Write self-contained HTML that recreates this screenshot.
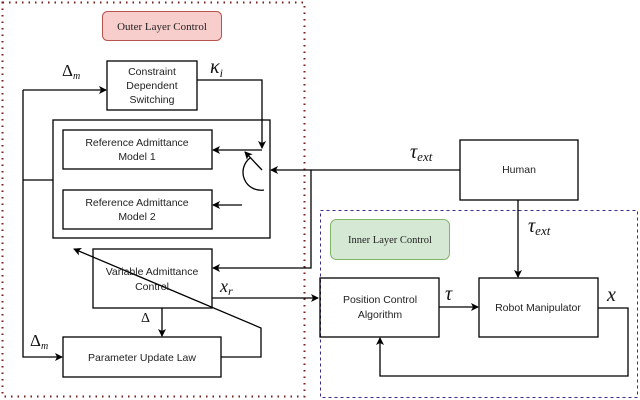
<!DOCTYPE html>
<html><head><style>
body{margin:0;background:#fff;}
svg{display:block;}
text{font-family:"Liberation Sans",sans-serif;font-size:10.5px;fill:#222;}
.m{font-family:"Liberation Serif",serif;font-style:italic;font-size:17px;fill:#111;}
</style></head><body>
<svg width="640" height="400" viewBox="0 0 640 400">
<defs><marker id="a" markerWidth="8" markerHeight="8" refX="7" refY="4" orient="auto" markerUnits="userSpaceOnUse"><path d="M0,0 L8,4 L0,8 L2,4z" fill="#000"/></marker></defs>
<rect x="2.5" y="2.5" width="302" height="394" fill="none" stroke="#7a1f1f" stroke-width="2" stroke-dasharray="1.5,5"/>
<rect x="320.5" y="210.5" width="317" height="187" fill="none" stroke="#3a2a8a" stroke-width="1" stroke-dasharray="3,3"/>
<rect x="102.5" y="11.5" width="119" height="29" rx="5" fill="#f8cecc" stroke="#b85450"/>
<text x="162" y="30" text-anchor="middle" style="font-family:'Liberation Serif',serif;font-size:11px">Outer Layer Control</text>
<rect x="330.5" y="219.5" width="119" height="40" rx="6" fill="#d5e8d4" stroke="#82b366"/>
<text x="390" y="243" text-anchor="middle" style="font-family:'Liberation Serif',serif;font-size:10.5px">Inner Layer Control</text>
<g fill="none" stroke="#000" stroke-width="1.3">
<rect x="107" y="61" width="90" height="49"/>
<rect x="53" y="120" width="217" height="118"/>
<rect x="63" y="130" width="149" height="39"/>
<rect x="63" y="190" width="149" height="39"/>
<rect x="93" y="249" width="119" height="59"/>
<rect x="63" y="337" width="158" height="40"/>
<rect x="460" y="140" width="118" height="60"/>
<rect x="320" y="278" width="119" height="59"/>
<rect x="479" y="278" width="119" height="59"/>
<path d="M23,180 H53"/>
<path d="M23,90 H106" marker-end="url(#a)"/>
<path d="M23,90 V357 H62" marker-end="url(#a)"/>
<path d="M197,80 H262 V148" marker-end="url(#a)"/>
<path d="M245,150 H213" marker-end="url(#a)"/>
<path d="M245,150 H262"/>
<path d="M262,170 L245,152" marker-end="url(#a)"/>
<path d="M250,158 A18,18 0 0 0 264,190"/>
<path d="M242,205 H213" marker-end="url(#a)"/>
<path d="M460,170 H271" marker-end="url(#a)"/>
<path d="M311,170 V268 H213" marker-end="url(#a)"/>
<path d="M212,298 H318" marker-end="url(#a)"/>
<path d="M162,308 V336" marker-end="url(#a)"/>
<path d="M221,357 H261 V328 L74,249" marker-end="url(#a)"/>
<path d="M518,200 V277" marker-end="url(#a)"/>
<path d="M439,307 H478" marker-end="url(#a)"/>
<path d="M598,308 H628 V376 H380 V338" marker-end="url(#a)"/>
</g>
<text x="152" y="75" text-anchor="middle">Constraint</text>
<text x="152" y="89" text-anchor="middle">Dependent</text>
<text x="152" y="103" text-anchor="middle">Switching</text>
<text x="137" y="146" text-anchor="middle">Reference Admittance</text>
<text x="137" y="160" text-anchor="middle">Model 1</text>
<text x="137" y="206" text-anchor="middle">Reference Admittance</text>
<text x="137" y="220" text-anchor="middle">Model 2</text>
<text x="152" y="275" text-anchor="middle">Variable Admittance</text>
<text x="152" y="290" text-anchor="middle">Control</text>
<text x="142" y="361" text-anchor="middle">Parameter Update Law</text>
<text x="519" y="173" text-anchor="middle">Human</text>
<text x="380" y="303" text-anchor="middle">Position Control</text>
<text x="380" y="318" text-anchor="middle">Algorithm</text>
<text x="538" y="311" text-anchor="middle">Robot Manipulator</text>
<text class="m" x="62" y="76" style="font-style:normal">Δ<tspan font-size="10" font-style="italic" dy="3">m</tspan></text>
<text class="m" x="30" y="346" style="font-style:normal">Δ<tspan font-size="10" font-style="italic" dy="3">m</tspan></text>
<text class="m" x="141" y="322" style="font-style:normal;font-size:14px">Δ</text>
<text class="m" x="210" y="73" style="font-size:20px">κ<tspan font-size="12" dy="4">i</tspan></text>
<text class="m" x="410" y="158" style="font-size:20px">τ<tspan font-size="13" dy="3">ext</tspan></text>
<text class="m" x="528" y="232" style="font-size:20px">τ<tspan font-size="13" dy="3">ext</tspan></text>
<text class="m" x="220" y="292" style="font-size:18px">x<tspan font-size="12" dy="3">r</tspan></text>
<text class="m" x="445" y="300" style="font-size:20px">τ</text>
<text class="m" x="607" y="301" style="font-size:20px">x</text>
</svg>
</body></html>
